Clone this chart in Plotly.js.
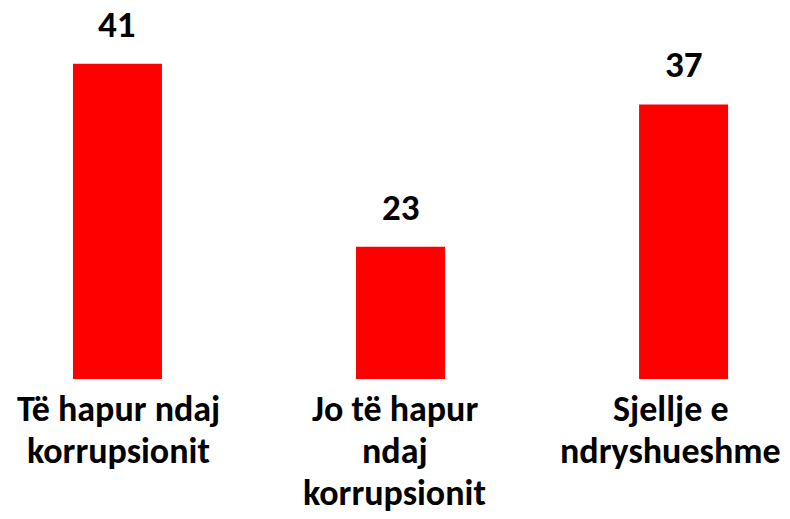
<!DOCTYPE html>
<html>
<head>
<meta charset="utf-8">
<script src="https://cdn.plot.ly/plotly-3.0.1.min.js"></script>
<style>html,body{margin:0;padding:0;background:#fff;}#chart{width:790px;height:519px;}</style>
</head>
<body>
<div id="chart"></div>
<script>
const categories = ["Të hapur ndaj korrupsionit", "Jo të hapur ndaj korrupsionit", "Sjellje e ndryshueshme"];
const tickLabels = ["Të hapur ndaj<br>korrupsionit", "Jo të hapur<br>ndaj<br>korrupsionit", "Sjellje e<br>ndryshueshme"];
const values = [41, 23, 37];

const FONT = "Carlito, Lato, 'Liberation Sans', sans-serif";
const labelShift = [1, -6, -13];
const LINE = 42;

const annotations = [];
values.forEach((v, i) => {
  annotations.push({
    x: categories[i], y: v, xref: 'x', yref: 'y',
    text: '<b>' + v + '</b>', showarrow: false,
    yanchor: 'bottom', yshift: 15,
    font: {family: FONT, size: 37, color: '#000'}
  });
  tickLabels[i].split('<br>').forEach((line, j) => {
    annotations.push({
      x: categories[i], y: 0, xref: 'x', yref: 'paper',
      text: '<b>' + line + '</b>',
      showarrow: false, yanchor: 'top', yshift: -7 - LINE * j, xshift: labelShift[i],
      borderpad: 0,
      font: {family: FONT, size: 36, color: '#000'}
    });
  });
});

Plotly.newPlot('chart', [{
  type: 'bar',
  x: categories,
  y: values,
  width: 0.3145,
  marker: {color: '#ff0000'},
  hoverinfo: 'none'
}], {
  width: 790, height: 519,
  margin: {l: 0, r: 0, t: 0, b: 140, pad: 0},
  paper_bgcolor: '#fff', plot_bgcolor: '#fff',
  showlegend: false,
  xaxis: {range: [-0.415, 2.376], showticklabels: false, showgrid: false, zeroline: false, showline: false, ticks: ''},
  yaxis: {range: [10, 47.27], visible: false, showgrid: false, zeroline: false},
  annotations: annotations
}, {displayModeBar: false, staticPlot: true});
</script>
</body>
</html>
